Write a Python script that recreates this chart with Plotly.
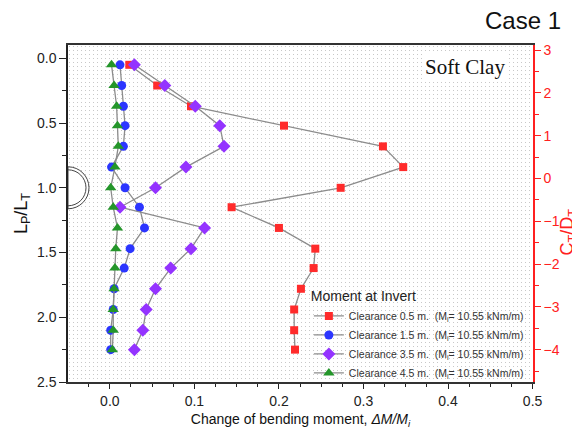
import base64
import plotly.graph_objects as go

# ---- data ----
lp_lt = [0.05, 0.21, 0.37, 0.52, 0.68, 0.84, 1.00, 1.15, 1.31, 1.47, 1.62, 1.78, 1.94, 2.10, 2.25]
clear_05 = [0.023, 0.056, 0.096, 0.206, 0.323, 0.347, 0.273, 0.144, 0.200, 0.243, 0.241, 0.226, 0.218, 0.218, 0.219]
clear_15 = [0.012, 0.014, 0.016, 0.018, 0.016, 0.002, 0.018, 0.035, 0.041, 0.024, 0.017, 0.005, 0.004, 0.001, 0.001]
clear_35 = [0.029, 0.065, 0.101, 0.130, 0.135, 0.090, 0.054, 0.012, 0.112, 0.096, 0.072, 0.054, 0.043, 0.039, 0.029]
clear_45 = [0.002, 0.005, 0.008, 0.009, 0.010, 0.006, 0.001, 0.004, 0.009, 0.007, 0.006, 0.005, 0.004, 0.004, 0.003]
series_names = [
    "Clearance 0.5 m.\u00a0\u00a0(M<sub>i</sub>= 10.55 kNm/m)",
    "Clearance 1.5 m.\u00a0\u00a0(M<sub>i</sub>= 10.55 kNm/m)",
    "Clearance 3.5 m.\u00a0\u00a0(M<sub>i</sub>= 10.55 kNm/m)",
    "Clearance 4.5 m.\u00a0\u00a0(M<sub>i</sub>= 10.55 kNm/m)",
]
series_values = [clear_05, clear_15, clear_35, clear_45]
colors = ["#ff2b2b", "#2b35ff", "#9433ff", "#24962a"]
symbols = ["square", "circle", "diamond", "triangle-up"]
sizes = [8, 9, 10, 10]

FONT = "Arial, Liberation Sans, sans-serif"
RED = "#ff2020"

fig = go.Figure()
for name, vals, c, s, sz in zip(series_names, series_values, colors, symbols, sizes):
    fig.add_trace(go.Scatter(
        x=vals, y=lp_lt, name=name, mode="lines+markers",
        line=dict(color="#8c8c8c", width=1.3),
        marker=dict(color=c, symbol=s, size=sz, line=dict(width=0)),
    ))
# invisible trace to activate right axis
fig.add_trace(go.Scatter(x=[], y=[], yaxis="y2", showlegend=False, hoverinfo="skip"))

# dotted background pattern
W, H = 465, 337
svg = (f'<svg xmlns="http://www.w3.org/2000/svg" width="{W}" height="{H}">'
       '<defs><pattern id="p" width="4" height="4" patternUnits="userSpaceOnUse">'
       '<rect x="1" y="1" width="1" height="1" fill="#c8c8c8"/></pattern></defs>'
       f'<rect width="{W}" height="{H}" fill="white"/>'
       f'<rect width="{W}" height="{H}" fill="url(#p)"/></svg>')
src = "data:image/svg+xml;base64," + base64.b64encode(svg.encode()).decode()

# tunnel semicircle (decorative) as bezier paths in pixel units
def semi(r):
    k = 0.5523 * r
    return (f"M 0 {r} C {k} {r} {r} {k} {r} 0 C {r} {-k} {k} {-r} 0 {-r} Z")

fig.update_layout(
    width=572, height=426,
    margin=dict(l=60, r=47, t=37, b=52, autoexpand=False),
    paper_bgcolor="white", plot_bgcolor="rgba(0,0,0,0)",
    font=dict(family=FONT, color="#222"),
    images=[dict(source=src, xref="paper", yref="paper", x=0, y=1, sizex=1, sizey=1,
                 xanchor="left", yanchor="top", sizing="stretch", layer="below")],
    xaxis=dict(
        range=[-0.0495, 0.5005], tick0=0, dtick=0.1, tickformat=".1f",
        ticks="outside", ticklen=5, tickwidth=1.2, tickcolor="#222",
        minor=dict(dtick=0.025, ticks="outside", ticklen=3, tickcolor="#222", showgrid=False),
        showline=True, linecolor="#333", linewidth=1.6, mirror=True,
        showgrid=False, zeroline=False, automargin=False,
        tickfont=dict(size=14, color="#222"),
        title=dict(text="Change of bending moment, <i>ΔM/M<sub>i</sub></i>",
                   font=dict(size=14, color="#111"), standoff=7),
    ),
    yaxis=dict(
        range=[2.5, -0.103], tick0=0, dtick=0.5, tickformat=".1f",
        ticks="outside", ticklen=7, tickwidth=1.2, tickcolor="#222",
        minor=dict(dtick=0.25, ticks="outside", ticklen=4, tickcolor="#222", showgrid=False),
        showline=True, linecolor="#222", linewidth=1.5,
        showgrid=False, zeroline=False, automargin=False,
        tickfont=dict(size=14, color="#222"),
        title=dict(text="L<sub>P</sub>/L<sub>T</sub>", font=dict(size=18, color="#111"), standoff=5),
    ),
    yaxis2=dict(
        overlaying="y", side="right", range=[-4.757, 3.117], dtick=1, tick0=0,
        ticks="outside", ticklen=6, tickwidth=1.2, tickcolor=RED,
        minor=dict(dtick=0.5, ticks="outside", ticklen=4, tickcolor=RED, showgrid=False),
        showline=True, linecolor=RED, linewidth=1.5,
        showgrid=False, zeroline=False, automargin=False,
        tickfont=dict(size=14, color=RED),
    ),
    legend=dict(
        x=0.518, y=0.293, xanchor="left", yanchor="top",
        bgcolor="rgba(0,0,0,0)", borderwidth=0,
        font=dict(size=10.5, color="#333"),
        title=dict(text="Moment at Invert", font=dict(size=14, color="#222")),
        tracegroupgap=0, itemwidth=30,
    ),
    showlegend=True,
    annotations=[
        dict(text="Case 1", xref="paper", yref="paper", x=0.978, y=1.074,
             xanchor="center", yanchor="middle", showarrow=False,
             font=dict(size=24, color="#111", family=FONT)),
        dict(text="Soft Clay", xref="paper", yref="paper", x=0.853, y=0.935,
             xanchor="center", yanchor="middle", showarrow=False, bgcolor="white",
             font=dict(size=21, color="#111", family="Liberation Serif, Times New Roman, serif")),
        dict(text="C<sub>T</sub>/D<sub>T</sub>", xref="paper", yref="paper", x=1.076, y=0.445,
             xanchor="center", yanchor="middle", showarrow=False, textangle=-90,
             font=dict(size=18, color=RED, family=FONT)),
    ],
    shapes=[
        dict(type="path", xref="x", yref="y", xsizemode="pixel", ysizemode="pixel",
             xanchor=-0.0495, yanchor=1.0, path=semi(21),
             line=dict(color="#444", width=1), fillcolor="white", layer="above"),
        dict(type="path", xref="x", yref="y", xsizemode="pixel", ysizemode="pixel",
             xanchor=-0.0495, yanchor=1.0, path=semi(18),
             line=dict(color="#444", width=1), fillcolor="white", layer="above"),
    ],
)

fig.write_html("out.html")
